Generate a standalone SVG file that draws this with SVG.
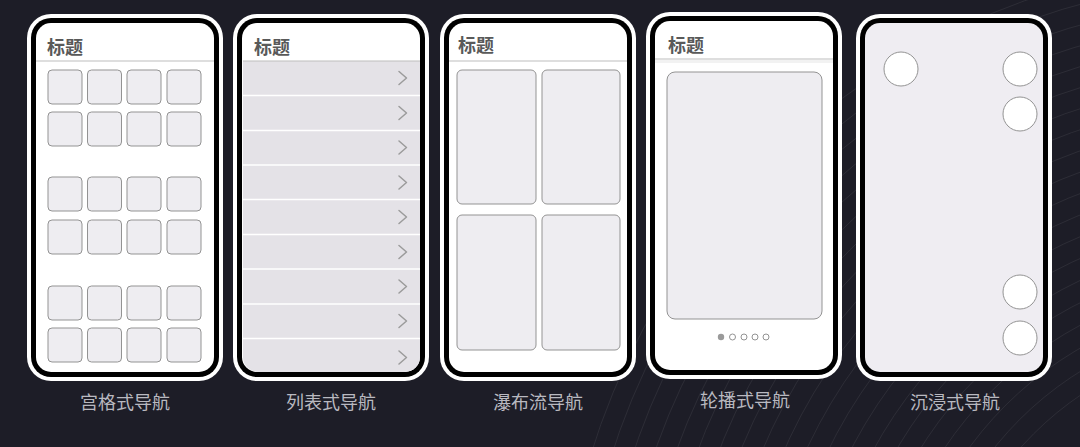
<svg xmlns="http://www.w3.org/2000/svg" width="1080" height="447" viewBox="0 0 1080 447">
<style>
.outer{fill:#ffffff}
.frame{fill:#000000}
.screen{fill:#ffffff}
.title{font-family:"Noto Sans CJK SC","Noto Sans",sans-serif;font-size:18px;font-weight:bold;fill:#595959}
.sep{stroke:#bdbdbd;stroke-width:1.2}
.cell{fill:#eeedf1;stroke:#939393;stroke-width:1}
.row{fill:#e4e2e7}
.rowsep{stroke:#ffffff;stroke-width:1.5}
.chev{fill:none;stroke:#9b9b9b;stroke-width:1.5;stroke-linecap:round;stroke-linejoin:round}
.btn{fill:#ffffff;stroke:#939393;stroke-width:1}
.label{font-family:"Noto Sans CJK SC","Noto Sans",sans-serif;font-size:18px;fill:#b9b9c0;text-anchor:middle}
.deco{fill:none;stroke:#ffffff;stroke-opacity:0.07;stroke-width:1}
</style>
<defs>
<clipPath id="clip2"><rect x="243" y="23" width="177" height="349" rx="15"/></clipPath>
</defs>
<rect x="0" y="0" width="1080" height="447" fill="#1d1d27"/>
<g id="background-lines">
<circle class="deco" cx="1260" cy="660" r="320"/>
<circle class="deco" cx="1260" cy="660" r="340"/>
<circle class="deco" cx="1260" cy="660" r="360"/>
<circle class="deco" cx="1260" cy="660" r="380"/>
<circle class="deco" cx="1260" cy="660" r="400"/>
<circle class="deco" cx="1260" cy="660" r="420"/>
<circle class="deco" cx="1260" cy="660" r="440"/>
<circle class="deco" cx="1260" cy="660" r="460"/>
<circle class="deco" cx="1260" cy="660" r="480"/>
<circle class="deco" cx="1260" cy="660" r="500"/>
<circle class="deco" cx="1260" cy="660" r="520"/>
<circle class="deco" cx="1260" cy="660" r="540"/>
<circle class="deco" cx="1260" cy="660" r="560"/>
<circle class="deco" cx="1260" cy="660" r="580"/>
<circle class="deco" cx="1260" cy="660" r="600"/>
<circle class="deco" cx="1260" cy="660" r="620"/>
<circle class="deco" cx="1260" cy="660" r="640"/>
<circle class="deco" cx="1260" cy="660" r="660"/>
<circle class="deco" cx="1260" cy="660" r="680"/>
<circle class="deco" cx="1260" cy="660" r="700"/>
</g>

<g id="phone-grid">
<rect class="outer" x="27" y="14" width="196" height="367" rx="24"/>
<rect class="frame" x="31" y="18" width="188" height="359" rx="20"/>
<rect class="screen" x="36" y="23" width="178" height="349" rx="15"/>
<text class="title" x="47" y="54">标题</text>
<line class="sep" x1="36" y1="61" x2="214" y2="61"/>
<g>
<rect class="cell" x="48" y="70" width="34" height="34" rx="4"/><rect class="cell" x="87.5" y="70" width="34" height="34" rx="4"/><rect class="cell" x="127" y="70" width="34" height="34" rx="4"/><rect class="cell" x="167" y="70" width="34" height="34" rx="4"/>
<rect class="cell" x="48" y="112" width="34" height="34" rx="4"/><rect class="cell" x="87.5" y="112" width="34" height="34" rx="4"/><rect class="cell" x="127" y="112" width="34" height="34" rx="4"/><rect class="cell" x="167" y="112" width="34" height="34" rx="4"/>
<rect class="cell" x="48" y="177" width="34" height="34" rx="4"/><rect class="cell" x="87.5" y="177" width="34" height="34" rx="4"/><rect class="cell" x="127" y="177" width="34" height="34" rx="4"/><rect class="cell" x="167" y="177" width="34" height="34" rx="4"/>
<rect class="cell" x="48" y="220" width="34" height="34" rx="4"/><rect class="cell" x="87.5" y="220" width="34" height="34" rx="4"/><rect class="cell" x="127" y="220" width="34" height="34" rx="4"/><rect class="cell" x="167" y="220" width="34" height="34" rx="4"/>
<rect class="cell" x="48" y="286" width="34" height="34" rx="4"/><rect class="cell" x="87.5" y="286" width="34" height="34" rx="4"/><rect class="cell" x="127" y="286" width="34" height="34" rx="4"/><rect class="cell" x="167" y="286" width="34" height="34" rx="4"/>
<rect class="cell" x="48" y="328" width="34" height="34" rx="4"/><rect class="cell" x="87.5" y="328" width="34" height="34" rx="4"/><rect class="cell" x="127" y="328" width="34" height="34" rx="4"/><rect class="cell" x="167" y="328" width="34" height="34" rx="4"/>
</g>
<text class="label" x="125" y="409">宫格式导航</text>
</g>

<g id="phone-list">
<rect class="outer" x="233" y="14" width="196" height="367" rx="24"/>
<rect class="frame" x="237" y="18" width="188" height="359" rx="20"/>
<rect class="screen" x="242" y="23" width="178" height="349" rx="15"/>
<g clip-path="url(#clip2)">
<rect class="row" x="242" y="61" width="178" height="311"/>
<line class="sep" x1="242" y1="61" x2="420" y2="61"/>
<line class="rowsep" x1="242" y1="95.5" x2="420" y2="95.5"/>
<line class="rowsep" x1="242" y1="130.5" x2="420" y2="130.5"/>
<line class="rowsep" x1="242" y1="165" x2="420" y2="165"/>
<line class="rowsep" x1="242" y1="199.5" x2="420" y2="199.5"/>
<line class="rowsep" x1="242" y1="234.5" x2="420" y2="234.5"/>
<line class="rowsep" x1="242" y1="269" x2="420" y2="269"/>
<line class="rowsep" x1="242" y1="304" x2="420" y2="304"/>
<line class="rowsep" x1="242" y1="338.5" x2="420" y2="338.5"/>
</g>
<text class="title" x="254" y="54">标题</text>
<path class="chev" d="M399 71.5 L406.5 78 L399 84.5"/>
<path class="chev" d="M399 106.5 L406.5 113 L399 119.5"/>
<path class="chev" d="M399 141 L406.5 147.5 L399 154"/>
<path class="chev" d="M399 176 L406.5 182.5 L399 189"/>
<path class="chev" d="M399 210.5 L406.5 217 L399 223.5"/>
<path class="chev" d="M399 245.5 L406.5 252 L399 258.5"/>
<path class="chev" d="M399 280 L406.5 286.5 L399 293"/>
<path class="chev" d="M399 314.5 L406.5 321 L399 327.5"/>
<path class="chev" d="M399 351 L406.5 357.5 L399 364"/>
<text class="label" x="331" y="409">列表式导航</text>
</g>

<g id="phone-waterfall">
<rect class="outer" x="440" y="14" width="196" height="367" rx="24"/>
<rect class="frame" x="444" y="18" width="188" height="359" rx="20"/>
<rect class="screen" x="449" y="23" width="178" height="349" rx="15"/>
<text class="title" x="458" y="52">标题</text>
<line class="sep" x1="449" y1="61" x2="627" y2="61"/>
<rect class="cell" x="457" y="70" width="79" height="134" rx="5"/>
<rect class="cell" x="542" y="70" width="78" height="134" rx="5"/>
<rect class="cell" x="457" y="215" width="79" height="135" rx="5"/>
<rect class="cell" x="542" y="215" width="78" height="135" rx="5"/>
<text class="label" x="538" y="409">瀑布流导航</text>
</g>

<g id="phone-carousel">
<rect class="outer" x="646" y="12" width="196" height="367" rx="24"/>
<rect class="frame" x="650" y="16" width="188" height="359" rx="20"/>
<rect class="screen" x="655" y="21" width="178" height="349" rx="15"/>
<text class="title" x="668" y="52">标题</text>
<line class="sep" x1="655" y1="59" x2="833" y2="59"/>
<rect x="655" y="60" width="178" height="3" fill="#f2f2f2"/>
<rect class="cell" x="667" y="72" width="155" height="247" rx="8"/>
<circle cx="721" cy="337" r="3.2" fill="#9a9a9a"/>
<circle class="btn" cx="732.5" cy="337" r="3"/>
<circle class="btn" cx="744" cy="337" r="3"/>
<circle class="btn" cx="755" cy="337" r="3"/>
<circle class="btn" cx="766" cy="337" r="3"/>
<text class="label" x="745" y="407">轮播式导航</text>
</g>

<g id="phone-immersive">
<rect class="outer" x="856" y="14" width="196" height="367" rx="24"/>
<rect class="frame" x="860" y="18" width="188" height="359" rx="20"/>
<rect x="865" y="23" width="178" height="349" rx="15" fill="#efedf2"/>
<circle class="btn" cx="901" cy="69" r="17"/>
<circle class="btn" cx="1020" cy="69" r="17"/>
<circle class="btn" cx="1020" cy="114" r="17"/>
<circle class="btn" cx="1020" cy="292" r="17"/>
<circle class="btn" cx="1020" cy="338" r="17"/>
<text class="label" x="955" y="409">沉浸式导航</text>
</g>
</svg>
